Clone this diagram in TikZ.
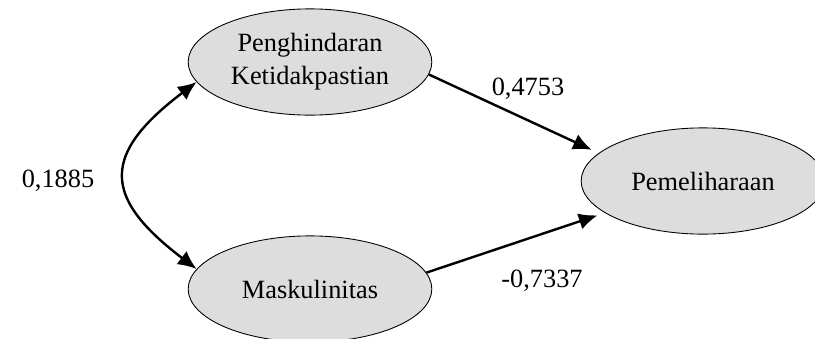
\documentclass[tikz,border=0pt]{standalone}
\usepackage{fontspec}
\setmainfont{Liberation Serif}
\usetikzlibrary{shapes.geometric,arrows.meta}
\definecolor{latent}{RGB}{221,221,221}
\tikzset{
  var/.style={ellipse, draw, fill=latent, inner sep=0pt, minimum width=3.9cm,
    minimum height=1.7cm, align=center, font=\fontsize{12}{15}\selectfont},
  coef/.style={font=\fontsize{12}{15}\selectfont},
  path/.style={line width=1.1pt, -{Latex[length=8.5pt,width=7.5pt]}},
}

\begin{document}
\begin{tikzpicture}[x=0.016cm, y=-0.016cm]
        \useasboundingbox (0, 0) rectangle (815, 339);
        \node[var] (K) at (310, 62) {Penghindaran\\Ketidakpastian};
        \node[var] (M) at (310, 289) {Maskulinitas};
        \node[var] (P) at (703, 181) {Pemeliharaan};

        \node[coef] (k) at (528, 89) {0,4753};
        \node[coef] (m) at (542, 281) {-0,7337};
        \node[coef] (km) at (58, 181) {0,1885};

        \draw[path, shorten >=3.5pt] (K.354) -- (P.165);
        \draw[path, shorten >=3.5pt] (M.8) -- (P.198);
        \draw[path, {Latex[length=8.5pt,width=7.5pt]}-{Latex[length=8.5pt,width=7.5pt]}]
          (K.190) .. controls +(-95, 72) and +(-95, -72) .. (M.170);
      \end{tikzpicture}
\end{document}
